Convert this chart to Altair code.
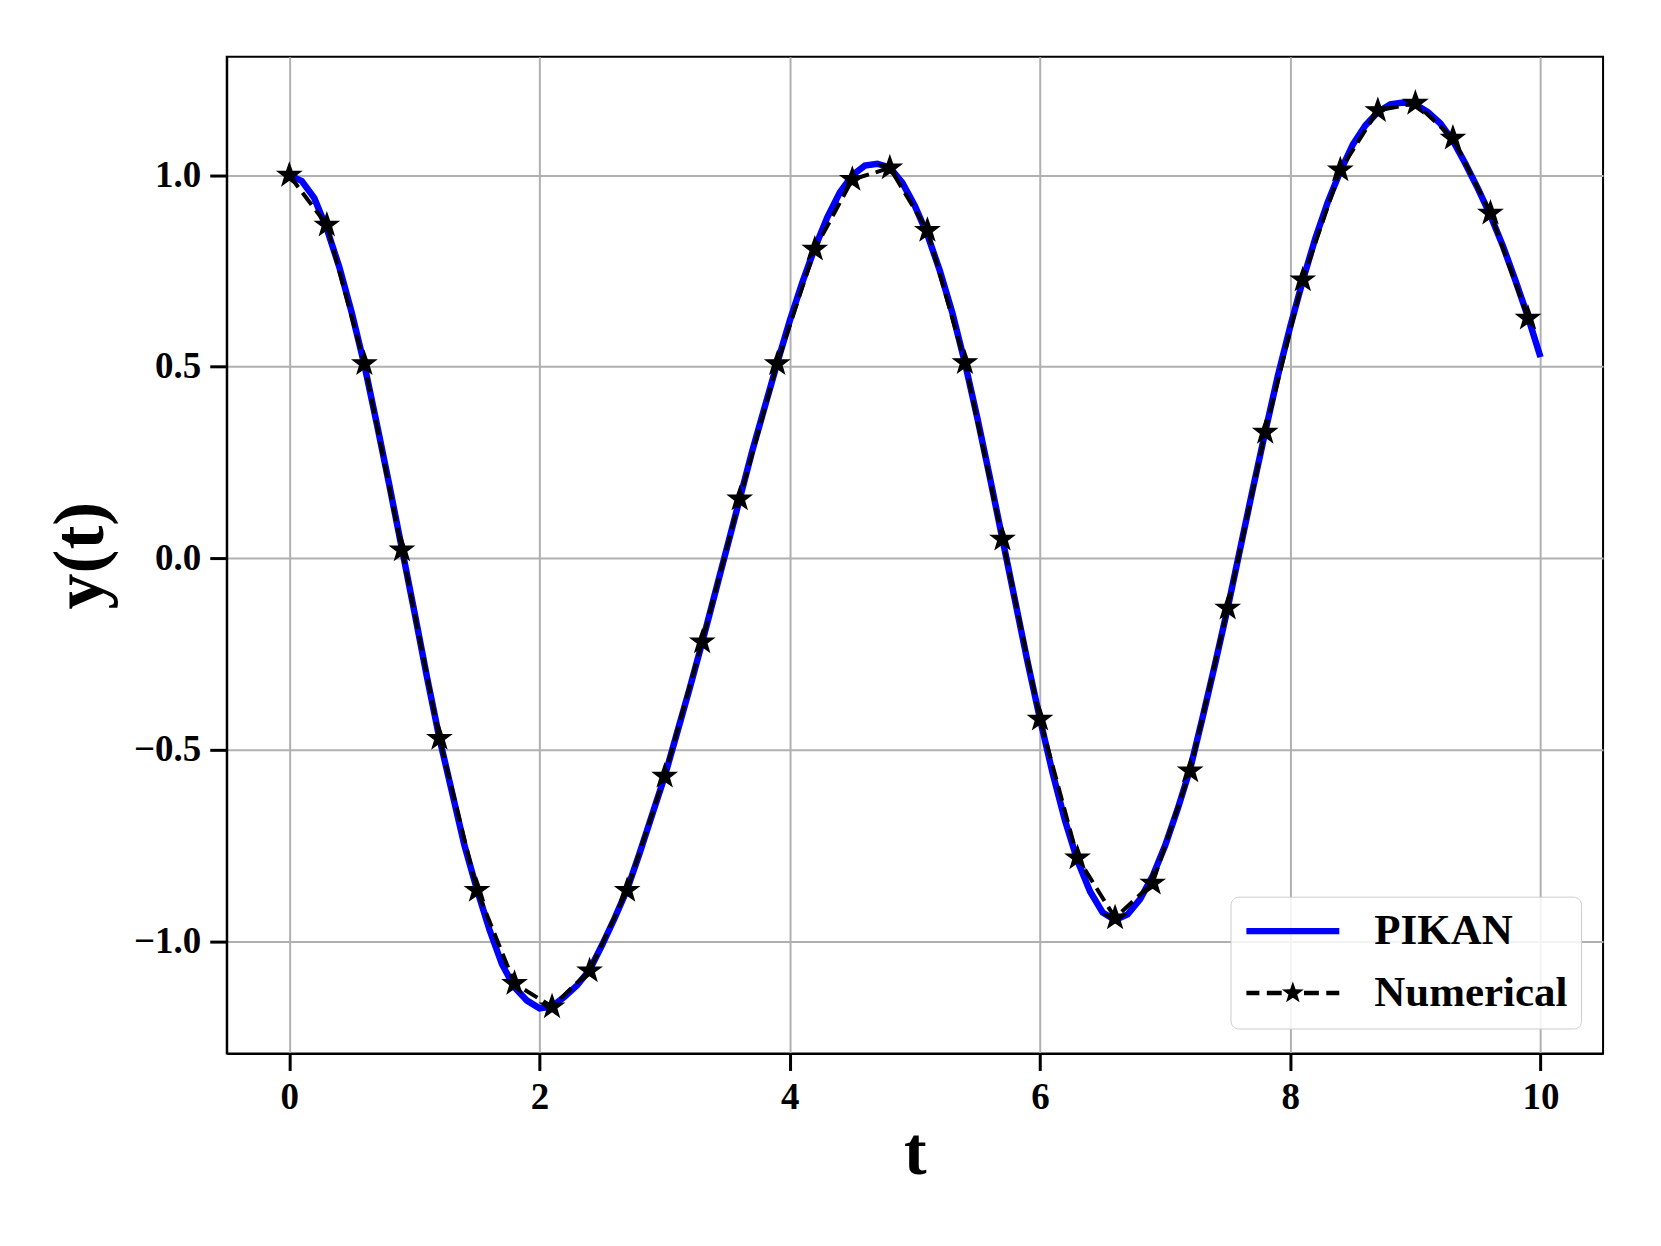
import math
import altair as alt
import pandas as pd

# ---------------- data ----------------
t_num = [0.0, 0.3, 0.6, 0.9, 1.2, 1.5, 1.8, 2.1, 2.4, 2.7, 3.0, 3.3, 3.6, 3.9,
         4.2, 4.5, 4.8, 5.1, 5.4, 5.7, 6.0, 6.3, 6.6, 6.9, 7.2, 7.5, 7.8, 8.1,
         8.4, 8.7, 9.0, 9.3, 9.6, 9.9]
y_num = [1.000, 0.870, 0.508, 0.022, -0.470, -0.867, -1.110, -1.171, -1.077,
         -0.867, -0.569, -0.218, 0.155, 0.508, 0.807, 0.989, 1.019, 0.856,
         0.511, 0.050, -0.420, -0.782, -0.939, -0.848, -0.555, -0.130, 0.329,
         0.727, 1.014, 1.169, 1.188, 1.097, 0.901, 0.627]

t_pikan = [round(0.1 * i, 1) for i in range(101)]
y_pikan = [1.00, 0.985, 0.94, 0.86, 0.76, 0.64, 0.505, 0.35, 0.19, 0.025,
           -0.14, -0.31, -0.47, -0.61, -0.75, -0.865, -0.97, -1.06, -1.12, -1.155,
           -1.175, -1.17, -1.145, -1.115, -1.075, -1.01, -0.94, -0.865, -0.77, -0.67,
           -0.57, -0.455, -0.34, -0.22, -0.095, 0.03, 0.155, 0.28, 0.395, 0.51,
           0.62, 0.72, 0.81, 0.89, 0.955, 1.00, 1.025, 1.03, 1.02, 0.98,
           0.92, 0.845, 0.75, 0.64, 0.51, 0.365, 0.21, 0.05, -0.11, -0.27,
           -0.42, -0.56, -0.685, -0.79, -0.87, -0.925, -0.945, -0.93, -0.89, -0.83,
           -0.75, -0.655, -0.55, -0.415, -0.275, -0.13, 0.025, 0.18, 0.33, 0.475,
           0.605, 0.725, 0.835, 0.93, 1.01, 1.08, 1.13, 1.165, 1.185, 1.19,
           1.185, 1.165, 1.135, 1.09, 1.03, 0.965, 0.895, 0.815, 0.725, 0.63,
           0.525]

series_names = ["PIKAN", "Numerical"]
series_colors = ["#0000ff", "#000000"]

x_ticks = [0, 2, 4, 6, 8, 10]
y_ticks = [-1.0, -0.5, 0.0, 0.5, 1.0]

df_pikan = pd.DataFrame({"t": t_pikan, "y": y_pikan})
df_num = pd.DataFrame({"t": t_num, "y": y_num})

# ---------------- marker shapes ----------------
def star_pts(cx, cy, r_out, r_in):
    pts = []
    for k in range(10):
        ang = math.radians(-90 + 36 * k)
        r = r_out if k % 2 == 0 else r_in
        pts.append((cx + r * math.cos(ang), cy + r * math.sin(ang)))
    return "M" + "L".join(f"{x:.3f},{y:.3f}" for x, y in pts) + "Z"

STAR = star_pts(0, 0, 1.0, 0.40)

def rect(x0, x1, h):
    return f"M{x0},{-h}L{x1},{-h}L{x1},{h}L{x0},{h}Z"

# legend symbols (units = sqrt(size)/2 px)
LEG_PIKAN = rect(-1, 4, 0.17)
LEG_NUM = (rect(-1, -0.3, 0.12) + rect(0.1, 0.9, 0.12) + star_pts(1.5, 0, 0.62, 0.25)
           + rect(2.1, 2.9, 0.12) + rect(3.3, 4, 0.12))

FONT = "Liberation Serif"

xscale = alt.Scale(domain=[-0.5, 10.5], nice=False, zero=False)
yscale = alt.Scale(domain=[-1.293, 1.3095], nice=False, zero=False)

xenc = alt.X("t:Q", scale=xscale,
             axis=alt.Axis(title="t", values=x_ticks, format="d", titlePadding=4,
                           titleFontSize=68))
yenc = alt.Y("y:Q", scale=yscale,
             axis=alt.Axis(title="y(t)", values=y_ticks, format=".1f", titlePadding=16,
                           titleFontSize=72))

pikan = alt.Chart(df_pikan).mark_line(color="#0000ff", strokeWidth=6.5).encode(x=xenc, y=yenc)
num_line = alt.Chart(df_num).mark_line(color="black", strokeWidth=4,
                                       strokeDash=[15, 7]).encode(x="t:Q", y="y:Q")
num_pts = alt.Chart(df_num).mark_point(shape=STAR, filled=True, color="black",
                                       stroke="black", strokeWidth=1.5,
                                       size=560, opacity=1).encode(x="t:Q", y="y:Q")

leg = alt.Legend(title=None, orient="none", legendX=1005, legendY=841,
                 padding=13, rowPadding=18, labelOffset=88,
                 labelFont=FONT, labelFontWeight="bold", labelFontSize=43,
                 labelColor="black", symbolStrokeWidth=0,
                 fillColor="rgba(255,255,255,0.85)", strokeColor="#cccccc",
                 cornerRadius=8, symbolSize=1384, symbolOpacity=1,
                 labelLimit=400)

legend_layer = alt.Chart(alt.Data(values=[])).mark_point(filled=True).encode(
    fill=alt.Fill("series:N", scale=alt.Scale(domain=series_names, range=series_colors), legend=leg),
    shape=alt.Shape("series:N", scale=alt.Scale(domain=series_names, range=[LEG_PIKAN, LEG_NUM]), legend=leg),
)

chart = alt.layer(pikan, num_line, num_pts, legend_layer).properties(
    width=1378, height=998,
    autosize=alt.AutoSizeParams(type="none"),
    padding={"left": 219, "top": 48, "right": 50, "bottom": 180},
).configure_view(stroke="black", strokeWidth=2).configure_axis(
    labelFont=FONT, labelFontWeight="bold", labelFontSize=37, labelColor="black",
    titleFont=FONT, titleFontWeight="bold", titleColor="black",
    tickColor="black", tickWidth=3, tickSize=17, domainColor="black", domainWidth=2,
    gridColor="#b0b0b0", gridWidth=2, labelPadding=9, grid=True,
)

chart.save("out.html", embed_options={"renderer": "svg", "actions": False})
